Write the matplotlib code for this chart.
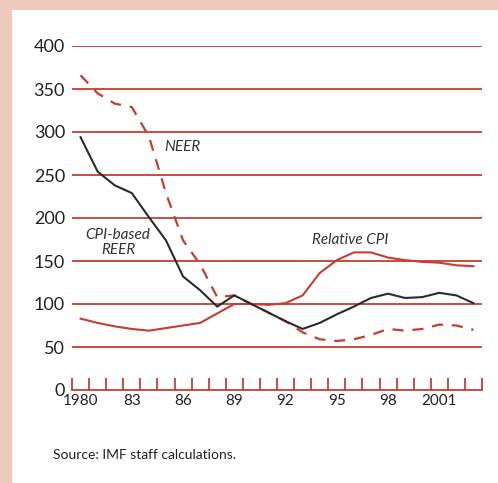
import numpy as np
import matplotlib.pyplot as plt
from matplotlib.patches import Rectangle

years = np.arange(1980, 2004)
reer = [294, 254, 238, 229, 201, 174, 132, 116, 97, 110, 100, 90, 80, 71,
        78, 88, 97, 107, 112, 107, 108, 113, 110, 101]
rel_cpi = [83, 78, 74, 71, 69, 72, 75, 78, 89, 100, 100, 99, 101, 110,
           136, 151, 160, 160, 154, 151, 149, 148, 145, 144]
neer = [366, 345, 333, 329, 295, 229, 174, 146, 108, 110, 100, 90, 80, 67,
        59, 57, 59, 64, 71, 69, 71, 76, 75, 70]
yticks = [0, 50, 100, 150, 200, 250, 300, 350, 400]
xlabels = ['1980', '83', '86', '89', '92', '95', '98', '2001']

red = '#c63d32'
pink = '#eecabd'
dark = '#2b2b2b'
plt.rcParams['font.family'] = ['Lato', 'DejaVu Sans']

fig = plt.figure(figsize=(4.98, 4.83), dpi=100)
fig.patch.set_facecolor(pink)
fig.patches.append(Rectangle((12 / 498, 0), 1, 1 - 10 / 483, transform=fig.transFigure,
                             facecolor='white', edgecolor='none', zorder=-10))

ax = fig.add_axes([72 / 498, 93 / 483, 410 / 498, 344 / 483])
ax.set_facecolor('none')
ax.set_xlim(1980, 2004)
ax.set_ylim(0, 400)

for v in yticks[1:]:
    ax.axhline(v, color=red, lw=1.3, zorder=1)

x = years + 0.5
ax.plot(x, rel_cpi, color=red, lw=1.5, zorder=3)
ax.plot(x, neer, color=red, lw=1.6, ls=(0, (5, 4)), zorder=2)
ax.plot(x, reer, color=dark, lw=1.5, zorder=4)

for s in ['top', 'right', 'left']:
    ax.spines[s].set_visible(False)
ax.spines['bottom'].set_color(red)
ax.spines['bottom'].set_linewidth(1.3)

ax.set_yticks(yticks)
ax.set_yticklabels([str(v) for v in yticks], fontsize=13, color='#222222')
ax.tick_params(axis='y', length=0, pad=5)

ax.set_xticks(np.arange(1980, 2005))
ax.set_xticklabels([])
ax.tick_params(axis='x', direction='in', length=9, width=1.3, color=red)
ax.set_xticks(np.arange(1980, 2004, 3) + 0.5, minor=True)
ax.set_xticklabels(xlabels, minor=True, fontsize=11, color='#222222')
ax.tick_params(axis='x', which='minor', length=0, pad=3)

ax.text(1986.45, 283, 'NEER', style='italic', fontsize=11, color='#333333',
        ha='center', va='center')
ax.text(1982.7, 172, 'CPI-based\nREER', style='italic', fontsize=11, color='#333333',
        ha='center', va='center', linespacing=1.1)
ax.text(1996.3, 174, 'Relative CPI', style='italic', fontsize=11, color='#333333',
        ha='center', va='center')

fig.text(53 / 498, 1 - 455 / 483, 'Source: IMF staff calculations.', fontsize=10,
         color='#222222', va='center')

fig.savefig('out.png', dpi=100, facecolor=fig.get_facecolor())
